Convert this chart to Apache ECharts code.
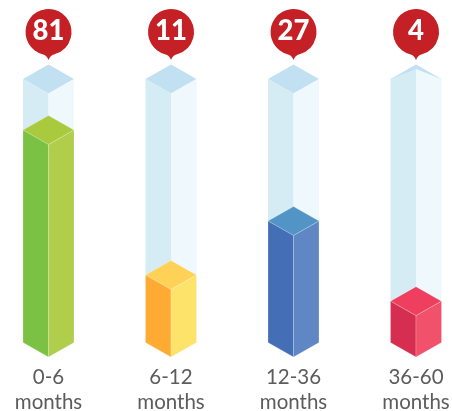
<!DOCTYPE html>
<html>
<head>
<meta charset="utf-8">
<style>
html, body { margin: 0; padding: 0; background: #fff; }
#main { width: 452px; height: 411px; }
</style>
<script src="https://cdn.jsdelivr.net/npm/echarts@6/dist/echarts.min.js"></script>
</head>
<body>
<div id="main"></div>
<script>
var categories = ['0-6\nmonths', '6-12\nmonths', '12-36\nmonths', '36-60\nmonths'];
// number shown in the pin
var pinValues = [81, 11, 27, 4];
// how far each column is filled, percent of the tube height
var fillLevels = [80.6, 25.6, 46.1, 15.7];
var tubeLevels = [100, 100, 100, 100];
var leftColors = ['#7bc143', '#ffaa33', '#446fb6', '#d62e50'];
var rightColors = ['#b0cd4b', '#fde36a', '#5f87c4', '#f2516c'];
var topColors = ['#a9ca3c', '#ffd257', '#5394c6', '#ee3f5e'];

var HALF = 25.5;   // half width of a column
var RISE = 14.5;   // height of the top diamond's half

function poly(points, fill, stroke) {
    return {
        type: 'polygon',
        shape: { points: points },
        style: { fill: fill, stroke: stroke || null, lineWidth: stroke ? 0.6 : 0 }
    };
}

// one isometric column: two side faces and a diamond on top
function column(x, yBase, yTop, left, right, top, edge) {
    return [
        poly([[x - HALF, yTop], [x, yTop - RISE], [x + HALF, yTop], [x, yTop + RISE]], top, edge),
        poly([[x - HALF, yTop], [x, yTop + RISE], [x, yBase + RISE], [x - HALF, yBase]], left, edge),
        poly([[x + HALF, yTop], [x, yTop + RISE], [x, yBase + RISE], [x + HALF, yBase]], right, edge)
    ];
}

function renderTube(params, api) {
    var base = api.coord([api.value(0), 0]);
    var top = api.coord([api.value(0), api.value(1)]);
    var x = base[0];
    var shapes = column(x, base[1], top[1], '#d5ecf5', '#eff8fc', '#c1e0f1');
    // the last tube has a shallow lid, side faces reach nearly to its apex
    if (params.dataIndex === 3) {
        shapes[1] = poly([[x - HALF, top[1]], [x, top[1] - RISE + 4.5], [x, base[1] + RISE], [x - HALF, base[1]]], '#d5ecf5');
        shapes[2] = poly([[x + HALF, top[1]], [x, top[1] - RISE + 4.5], [x, base[1] + RISE], [x + HALF, base[1]]], '#eff8fc');
    }
    return { type: 'group', children: shapes };
}

function renderFill(params, api) {
    var i = params.dataIndex;
    var base = api.coord([api.value(0), 0]);
    var top = api.coord([api.value(0), api.value(1)]);
    return {
        type: 'group',
        children: column(base[0], base[1], top[1], leftColors[i], rightColors[i], topColors[i], 'rgba(255,255,255,0.35)')
    };
}

function renderPin(params, api) {
    var p = api.coord([api.value(0), 100]);
    var x = p[0];
    var cy = p[1] - 47;
    return {
        type: 'group',
        children: [
            {
                type: 'path',
                shape: {
                    pathData: 'M0 28 C-1 25 -3 23 -6 22.2 A23 23 0 1 1 6 22.2 C3 23 1 25 0 28 Z',
                    x: x - 23, y: cy - 23, width: 46, height: 51
                },
                style: { fill: '#c42026' }
            },
            {
                type: 'text',
                style: {
                    x: x, y: cy - 0.5,
                    text: String(pinValues[params.dataIndex]),
                    fill: '#fff',
                    font: '900 27.5px Lato',
                    align: 'center',
                    verticalAlign: 'middle'
                }
            }
        ]
    };
}

var myChart = echarts.init(document.getElementById('main'));

var option = {
    animation: false,
    grid: { left: -12.75, width: 490, top: 79, height: 263.5, outerBoundsMode: 'none' },
    xAxis: {
        type: 'category',
        data: categories,
        axisLine: { show: false },
        axisTick: { show: false },
        axisLabel: {
            margin: 22,
            interval: 0,
            color: '#5c5c5c',
            fontFamily: 'Lato',
            fontSize: 20.5,
            lineHeight: 25
        }
    },
    yAxis: { type: 'value', min: 0, max: 100, show: false },
    series: [
        { type: 'custom', renderItem: renderTube, data: tubeLevels.map(function (v, i) { return [i, v]; }), clip: false },
        { type: 'custom', renderItem: renderFill, data: fillLevels.map(function (v, i) { return [i, v]; }), clip: false },
        { type: 'custom', renderItem: renderPin, data: pinValues.map(function (v, i) { return [i, v]; }), clip: false }
    ]
};

myChart.setOption(option);
</script>
</body>
</html>
